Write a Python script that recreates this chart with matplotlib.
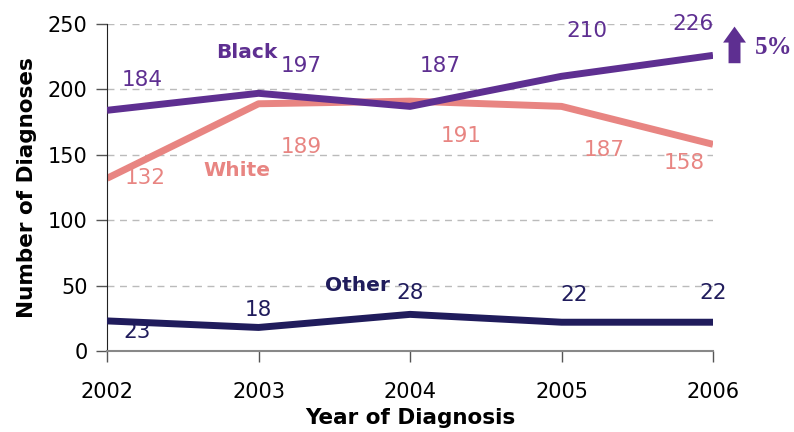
import matplotlib
matplotlib.use("Agg")
import matplotlib.pyplot as plt

years = [2002, 2003, 2004, 2005, 2006]
black = [184, 197, 187, 210, 226]
white = [132, 189, 191, 187, 158]
other = [23, 18, 28, 22, 22]
yticks = [0, 50, 100, 150, 200, 250]

c_black = "#5e2f91"
c_white = "#e88582"
c_other = "#201c5c"

plt.rcParams['font.family'] = ['DejaVu Sans']

fig = plt.figure(figsize=(7.94, 4.32), dpi=100)
ax = fig.add_axes([0.1348, 0.1875, 0.7632, 0.757])

for v in yticks[1:]:
    ax.axhline(v, color="#bbbbbb", lw=1, ls=(0, (5, 4)), zorder=0)

ax.plot(years, white, color=c_white, lw=5, solid_capstyle='butt', zorder=2)
ax.plot(years, black, color=c_black, lw=5, solid_capstyle='butt', zorder=3)
ax.plot(years, other, color=c_other, lw=5, solid_capstyle='butt', zorder=3)

ax.set_xlim(2002, 2006)
ax.set_ylim(0, 250)
ax.set_yticks(yticks)
ax.set_xticks(years)
ax.tick_params(axis='both', labelsize=15, length=8, width=1, color="#555555")
ax.tick_params(axis='x', direction='out', pad=14)
ax.tick_params(axis='y', pad=6)
for s in ['top', 'right']:
    ax.spines[s].set_visible(False)
ax.spines['left'].set_color("#222222")
ax.spines['bottom'].set_color("#888888")
ax.spines['bottom'].set_linewidth(1.5)

ax.set_ylabel("Number of Diagnoses", fontsize=15.5, fontweight='bold', labelpad=8)
ax.set_xlabel("Year of Diagnosis", fontsize=15.5, fontweight='bold', labelpad=5)

# value label positions (data coords)
b_pos = [(2002.23, 207), (2003.28, 218), (2004.20, 218), (2005.17, 245), (2005.87, 250)]
w_pos = [(2002.25, 132), (2003.28, 156), (2004.34, 164), (2005.28, 154), (2005.81, 144)]
o_pos = [(2002.20, 14.5), (2003.0, 31), (2004.0, 44), (2005.08, 43), (2006.0, 44)]
for i in range(len(years)):
    ax.text(*b_pos[i], str(black[i]), color=c_black, fontsize=15.5, ha='center', va='center', clip_on=False)
    ax.text(*w_pos[i], str(white[i]), color=c_white, fontsize=15.5, ha='center', va='center')
    ax.text(*o_pos[i], str(other[i]), color=c_other, fontsize=15.5, ha='center', va='center')

ax.text(2002.92, 228, "Black", color=c_black, fontsize=14.5, fontweight='bold', ha='center', va='center')
ax.text(2002.86, 138, "White", color=c_white, fontsize=14.5, fontweight='bold', ha='center', va='center')
ax.text(2003.65, 50, "Other", color=c_other, fontsize=14.5, fontweight='bold', ha='center', va='center')

ax.annotate("", xy=(2006.142, 248), xytext=(2006.142, 220),
            arrowprops=dict(arrowstyle='simple,head_width=1.65,head_length=1.15,tail_width=0.86',
                            color=c_black, lw=0, mutation_scale=10, shrinkA=0, shrinkB=0),
            annotation_clip=False)
ax.text(2006.275, 232, "5%", color=c_black, fontsize=18, fontweight='bold',
        family='Liberation Serif', ha='left', va='center', clip_on=False)

fig.savefig("out.png", dpi=100)
